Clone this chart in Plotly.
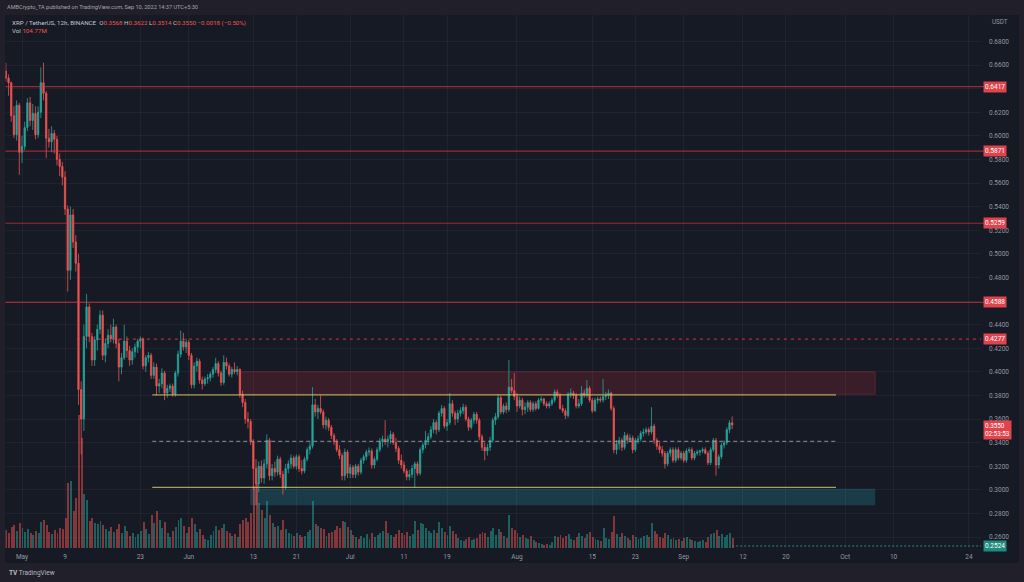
import pandas as pd
import plotly.graph_objects as go

# ---------------- data (XRP/USDT, 12h candles) ----------------
first_open = 0.655
closes = [
    0.649, 0.645, 0.617, 0.601, 0.626, 0.586, 0.591, 0.607, 0.628, 0.613,
    0.619, 0.601, 0.620, 0.645, 0.636, 0.598, 0.595, 0.602, 0.597, 0.580,
    0.574, 0.565, 0.538, 0.486, 0.533, 0.510, 0.492, 0.385, 0.360, 0.430,
    0.455, 0.430, 0.410, 0.427, 0.436, 0.448, 0.414, 0.424, 0.431, 0.428,
    0.438, 0.424, 0.404, 0.412, 0.426, 0.418, 0.410, 0.417, 0.421, 0.426,
    0.428, 0.405, 0.412, 0.414, 0.397, 0.404, 0.388, 0.390, 0.399, 0.382,
    0.386, 0.388, 0.381, 0.399, 0.415, 0.426, 0.421, 0.425, 0.414, 0.389,
    0.405, 0.409, 0.393, 0.390, 0.394, 0.395, 0.398, 0.402, 0.407, 0.399,
    0.391, 0.408, 0.405, 0.398, 0.402, 0.400, 0.402, 0.381, 0.374, 0.360,
    0.358, 0.341, 0.318, 0.305, 0.320, 0.310, 0.322, 0.342, 0.312, 0.318,
    0.315, 0.326, 0.313, 0.302, 0.318, 0.322, 0.327, 0.320, 0.328, 0.318,
    0.316, 0.326, 0.334, 0.337, 0.372, 0.366, 0.369, 0.366, 0.355, 0.359,
    0.353, 0.346, 0.341, 0.334, 0.329, 0.312, 0.332, 0.314, 0.319, 0.313,
    0.320, 0.315, 0.325, 0.328, 0.332, 0.333, 0.321, 0.326, 0.334, 0.341,
    0.343, 0.341, 0.343, 0.347, 0.340, 0.335, 0.325, 0.321, 0.316, 0.311,
    0.313, 0.318, 0.322, 0.314, 0.334, 0.338, 0.342, 0.345, 0.351, 0.357,
    0.351, 0.365, 0.369, 0.354, 0.357, 0.373, 0.365, 0.360, 0.365, 0.367,
    0.370, 0.360, 0.353, 0.359, 0.364, 0.359, 0.345, 0.336, 0.333, 0.336,
    0.342, 0.359, 0.362, 0.378, 0.366, 0.371, 0.368, 0.387, 0.384, 0.379,
    0.371, 0.376, 0.368, 0.370, 0.374, 0.368, 0.373, 0.369, 0.376, 0.377,
    0.373, 0.371, 0.373, 0.376, 0.383, 0.380, 0.369, 0.367, 0.363, 0.381,
    0.382, 0.380, 0.371, 0.373, 0.382, 0.380, 0.386, 0.376, 0.367, 0.376,
    0.377, 0.376, 0.379, 0.380, 0.382, 0.369, 0.334, 0.339, 0.342, 0.336,
    0.346, 0.342, 0.344, 0.334, 0.342, 0.343, 0.348, 0.349, 0.351, 0.349,
    0.354, 0.342, 0.337, 0.334, 0.331, 0.322, 0.331, 0.334, 0.325, 0.334,
    0.327, 0.331, 0.325, 0.333, 0.334, 0.327, 0.331, 0.332, 0.333, 0.334,
    0.331, 0.323, 0.334, 0.342, 0.321, 0.328, 0.338, 0.340, 0.351, 0.3568,
    0.3550,
]
highs = [
    0.662, 0.652, 0.646, 0.625, 0.630, 0.628, 0.600, 0.612, 0.632, 0.633,
    0.627, 0.625, 0.625, 0.658, 0.662, 0.638, 0.606, 0.608, 0.605, 0.600,
    0.585, 0.578, 0.570, 0.541, 0.540, 0.538, 0.516, 0.500, 0.392, 0.440,
    0.466, 0.458, 0.433, 0.430, 0.440, 0.452, 0.452, 0.428, 0.436, 0.440,
    0.445, 0.440, 0.428, 0.416, 0.440, 0.430, 0.422, 0.420, 0.424, 0.428,
    0.430, 0.429, 0.414, 0.417, 0.416, 0.408, 0.407, 0.394, 0.403, 0.401,
    0.389, 0.390, 0.390, 0.401, 0.418, 0.435, 0.433, 0.428, 0.427, 0.416,
    0.408, 0.412, 0.411, 0.396, 0.396, 0.398, 0.400, 0.404, 0.412, 0.409,
    0.401, 0.414, 0.412, 0.407, 0.404, 0.408, 0.405, 0.403, 0.384, 0.377,
    0.366, 0.360, 0.343, 0.326, 0.324, 0.325, 0.326, 0.347, 0.344, 0.322,
    0.324, 0.329, 0.328, 0.316, 0.322, 0.325, 0.330, 0.329, 0.330, 0.330,
    0.325, 0.328, 0.336, 0.340, 0.387, 0.377, 0.372, 0.380, 0.368, 0.362,
    0.361, 0.355, 0.348, 0.343, 0.338, 0.331, 0.335, 0.334, 0.322, 0.321,
    0.322, 0.322, 0.327, 0.330, 0.334, 0.336, 0.335, 0.328, 0.336, 0.344,
    0.346, 0.359, 0.346, 0.350, 0.349, 0.344, 0.337, 0.330, 0.324, 0.318,
    0.317, 0.321, 0.324, 0.324, 0.336, 0.340, 0.350, 0.348, 0.354, 0.360,
    0.359, 0.367, 0.372, 0.371, 0.360, 0.382, 0.376, 0.367, 0.368, 0.370,
    0.373, 0.372, 0.362, 0.361, 0.366, 0.366, 0.361, 0.347, 0.340, 0.339,
    0.345, 0.361, 0.365, 0.381, 0.380, 0.373, 0.374, 0.410, 0.394, 0.399,
    0.382, 0.379, 0.378, 0.374, 0.376, 0.376, 0.375, 0.375, 0.378, 0.379,
    0.378, 0.375, 0.375, 0.378, 0.385, 0.385, 0.382, 0.372, 0.369, 0.383,
    0.386, 0.384, 0.382, 0.377, 0.388, 0.385, 0.393, 0.388, 0.378, 0.378,
    0.379, 0.379, 0.394, 0.383, 0.385, 0.383, 0.371, 0.342, 0.345, 0.344,
    0.349, 0.348, 0.347, 0.346, 0.344, 0.346, 0.350, 0.352, 0.353, 0.353,
    0.370, 0.356, 0.344, 0.340, 0.337, 0.333, 0.333, 0.336, 0.336, 0.336,
    0.336, 0.333, 0.333, 0.335, 0.336, 0.336, 0.333, 0.334, 0.334, 0.336,
    0.336, 0.333, 0.336, 0.344, 0.344, 0.330, 0.340, 0.342, 0.353, 0.359,
    0.3622,
]
lows = [
    0.646, 0.634, 0.612, 0.598, 0.596, 0.567, 0.577, 0.588, 0.604, 0.608,
    0.605, 0.597, 0.598, 0.615, 0.630, 0.581, 0.590, 0.586, 0.585, 0.575,
    0.566, 0.558, 0.533, 0.468, 0.478, 0.505, 0.485, 0.372, 0.330, 0.350,
    0.420, 0.425, 0.405, 0.405, 0.418, 0.432, 0.410, 0.408, 0.420, 0.425,
    0.424, 0.420, 0.392, 0.398, 0.410, 0.412, 0.405, 0.406, 0.412, 0.416,
    0.420, 0.402, 0.400, 0.408, 0.394, 0.394, 0.380, 0.382, 0.386, 0.376,
    0.378, 0.383, 0.379, 0.379, 0.396, 0.412, 0.418, 0.416, 0.410, 0.386,
    0.386, 0.400, 0.390, 0.385, 0.388, 0.390, 0.392, 0.395, 0.399, 0.396,
    0.388, 0.389, 0.402, 0.396, 0.395, 0.398, 0.397, 0.378, 0.370, 0.356,
    0.352, 0.338, 0.300, 0.287, 0.298, 0.306, 0.305, 0.318, 0.308, 0.308,
    0.311, 0.312, 0.310, 0.296, 0.300, 0.314, 0.318, 0.318, 0.317, 0.315,
    0.313, 0.314, 0.324, 0.330, 0.335, 0.362, 0.360, 0.364, 0.352, 0.351,
    0.350, 0.343, 0.338, 0.332, 0.326, 0.308, 0.308, 0.310, 0.310, 0.310,
    0.310, 0.312, 0.313, 0.322, 0.325, 0.329, 0.318, 0.318, 0.324, 0.332,
    0.336, 0.338, 0.336, 0.339, 0.338, 0.332, 0.322, 0.318, 0.314, 0.308,
    0.308, 0.310, 0.302, 0.312, 0.312, 0.331, 0.335, 0.338, 0.343, 0.348,
    0.347, 0.349, 0.362, 0.352, 0.350, 0.355, 0.362, 0.355, 0.357, 0.362,
    0.364, 0.358, 0.350, 0.351, 0.356, 0.356, 0.342, 0.333, 0.325, 0.329,
    0.333, 0.340, 0.355, 0.360, 0.364, 0.364, 0.365, 0.366, 0.382, 0.376,
    0.366, 0.369, 0.363, 0.364, 0.366, 0.366, 0.366, 0.367, 0.368, 0.374,
    0.371, 0.369, 0.369, 0.371, 0.374, 0.378, 0.368, 0.365, 0.360, 0.361,
    0.378, 0.377, 0.369, 0.369, 0.371, 0.378, 0.378, 0.374, 0.365, 0.366,
    0.373, 0.374, 0.374, 0.376, 0.377, 0.367, 0.331, 0.330, 0.334, 0.333,
    0.334, 0.339, 0.340, 0.331, 0.332, 0.339, 0.341, 0.345, 0.347, 0.346,
    0.347, 0.339, 0.334, 0.331, 0.328, 0.318, 0.320, 0.328, 0.323, 0.323,
    0.325, 0.325, 0.323, 0.323, 0.331, 0.325, 0.325, 0.329, 0.329, 0.331,
    0.330, 0.321, 0.321, 0.332, 0.312, 0.318, 0.326, 0.335, 0.338, 0.348,
    0.3514,
]
volumes_m = [
    180, 150, 210, 230, 170, 250, 200, 160, 190, 150,
    130, 170, 150, 260, 280, 230, 160, 140, 180, 150,
    200, 190, 300, 650, 670, 370, 500, 1330, 1100, 540,
    480, 270, 300, 250, 240, 270, 230, 190, 170, 210,
    160, 190, 240, 150, 220, 170, 120, 150, 110, 140,
    170, 260, 190, 140, 330, 250, 370, 280, 200, 260,
    150, 110, 170, 210, 280, 300, 220, 150, 210, 300,
    240, 160, 190, 130, 90, 80, 130, 170, 220, 180,
    200, 240, 170, 150, 120, 140, 110, 240, 280, 300,
    260, 350, 620, 650, 450, 380, 300, 470, 330, 250,
    210, 220, 180, 280, 190, 150, 140, 120, 150, 130,
    110, 120, 160, 180, 470, 240, 220, 200, 190, 120,
    150, 160, 180, 220, 200, 270, 260, 210, 180, 130,
    110, 90, 120, 100, 140, 90, 150, 110, 130, 150,
    170, 270, 150, 130, 110, 140, 180, 150, 130, 160,
    120, 140, 270, 180, 250, 240, 200, 170, 150, 180,
    150, 260, 200, 160, 130, 220, 170, 140, 100, 80,
    70, 90, 110, 80, 90, 100, 140, 160, 150, 110,
    170, 200, 130, 190, 160, 120, 100, 330, 200, 180,
    150, 110, 130, 100, 90, 120, 80, 60, 50, 40,
    30, 40, 30, 60, 120, 110, 130, 100, 120, 140,
    90, 80, 110, 150, 120, 100, 140, 160, 110, 90,
    80, 70, 200, 100, 90, 160, 320, 140, 110, 150,
    120, 100, 80, 130, 110, 90, 100, 120, 130, 110,
    250, 170, 140, 110, 100, 150, 130, 90, 100, 80,
    90, 70, 100, 110, 90, 80, 70, 60, 70, 80,
    60, 110, 140, 150, 180, 120, 140, 110, 130, 150,
    104.77,
]
first_candle = "2022-04-28 00:00"

# analyst drawings (price levels and date spans)
red_levels = [0.6417, 0.5871, 0.5259, 0.4588]
red_dashed_level = 0.4277
red_dashed_from = "2022-05-11 05:00"
supply_low, supply_high = 0.381, 0.400
supply_from, supply_to = "2022-06-10 12:00", "2022-10-06 14:00"
demand_low, demand_high = 0.287, 0.301
demand_from, demand_to = "2022-06-12 10:00", "2022-10-06 14:00"
range_top, range_mid, range_bottom = 0.3805, 0.341, 0.302
range_from, range_to = "2022-05-25 05:00", "2022-09-29 07:00"
bottom_level = 0.2524

price_ticks = [0.26, 0.28, 0.30, 0.32, 0.34, 0.36, 0.38, 0.40, 0.42, 0.44,
               0.46, 0.48, 0.50, 0.52, 0.54, 0.56, 0.58, 0.60, 0.62, 0.64,
               0.66, 0.68]
hidden_price_ticks = [0.46, 0.64]   # covered by the level labels in the reference
date_ticks = ["2022-05-01", "2022-05-09", "2022-05-23", "2022-06-01", "2022-06-13",
              "2022-06-21", "2022-07-01", "2022-07-11", "2022-07-19", "2022-08-01",
              "2022-08-15", "2022-08-23", "2022-09-01", "2022-09-12", "2022-09-20",
              "2022-10-01", "2022-10-10", "2022-10-24"]
date_tick_text = ["May", "9", "23", "Jun", "13", "21", "Jul", "11", "19", "Aug",
                  "15", "23", "Sep", "12", "20", "Oct", "10", "24"]

# ---------------- build ----------------
times = pd.date_range(first_candle, periods=len(closes), freq="12h")
opens = [first_open] + closes[:-1]

UP = "#26a69a"
DN = "#ef5350"
UP_V = "rgba(38,166,154,0.5)"
DN_V = "rgba(239,83,80,0.5)"
BG = "#161a25"
FRAME = "#211f2a"
TXT = "#9598a1"
FONT = "Roboto, Liberation Sans, sans-serif"

vol_colors = [UP_V if c >= o else DN_V for o, c in zip(opens, closes)]
price_tick_text = ["" if any(abs(t - h) < 1e-9 for h in hidden_price_ticks) else f"{t:.4f}"
                   for t in price_ticks]

fig = go.Figure()
fig.add_trace(go.Bar(
    x=times, y=volumes_m, marker=dict(color=vol_colors, line=dict(width=0)),
    yaxis="y2", hoverinfo="skip", showlegend=False,
    width=12 * 3600 * 1000 * 0.72,
))
fig.add_trace(go.Candlestick(
    x=times, open=opens, high=highs, low=lows, close=closes,
    increasing=dict(line=dict(color=UP, width=0.8), fillcolor=UP),
    decreasing=dict(line=dict(color=DN, width=0.8), fillcolor=DN),
    whiskerwidth=0, showlegend=False, hoverinfo="skip",
))

W, H = 1024, 582
px_x = lambda px: px / W
px_y = lambda py: (H - py) / H

shapes = []
# chart frame background
shapes.append(dict(type="rect", xref="paper", yref="paper",
                   x0=px_x(5), x1=px_x(1019), y0=px_y(563), y1=px_y(15),
                   fillcolor=BG, line=dict(width=0), layer="below"))
for lv in red_levels:
    shapes.append(dict(type="line", xref="x domain", yref="y", x0=0, x1=1.003,
                       y0=lv, y1=lv, line=dict(color="rgba(242,54,69,0.6)", width=1.2)))
shapes.append(dict(type="line", xref="x", yref="y", x0=red_dashed_from, x1=times[-1] + pd.Timedelta(days=60),
                   y0=red_dashed_level, y1=red_dashed_level,
                   line=dict(color="rgba(242,54,69,0.7)", width=1.2, dash="3px,4px")))
shapes.append(dict(type="rect", xref="x", yref="y", x0=supply_from, x1=supply_to,
                   y0=supply_low, y1=supply_high, fillcolor="rgba(242,54,69,0.16)",
                   line=dict(color="rgba(242,54,69,0.25)", width=1), layer="below"))
shapes.append(dict(type="rect", xref="x", yref="y", x0=demand_from, x1=demand_to,
                   y0=demand_low, y1=demand_high, fillcolor="rgba(38,150,170,0.28)",
                   line=dict(width=0), layer="below"))
for lv in (range_top, range_bottom):
    shapes.append(dict(type="line", xref="x", yref="y", x0=range_from, x1=range_to,
                       y0=lv, y1=lv, line=dict(color="rgba(215,205,110,0.75)", width=1.2)))
shapes.append(dict(type="line", xref="x", yref="y", x0=range_from, x1=range_to,
                   y0=range_mid, y1=range_mid,
                   line=dict(color="rgba(150,152,160,0.75)", width=1.2, dash="4px,3px")))
shapes.append(dict(type="line", xref="x", yref="y", x0=times[-1], x1=times[-1] + pd.Timedelta(days=60),
                   y0=bottom_level, y1=bottom_level,
                   line=dict(color="rgba(38,166,154,0.8)", width=1, dash="2px,2px")))

ann = []
def box(y, text, color):
    ann.append(dict(xref="paper", yref="y", x=px_x(983), y=y, xanchor="left", yanchor="middle",
                    text=text, showarrow=False, bgcolor=color, borderpad=1,
                    font=dict(family=FONT, size=6.5, color="white")))
for lv in red_levels + [red_dashed_level]:
    box(lv, f"{lv:.4f}", "#e0434c")
ann.append(dict(xref="paper", yref="y", x=px_x(983), y=closes[-1], xanchor="left", yanchor="top",
                yshift=5, text=f"{closes[-1]:.4f}<br>02:53:53", showarrow=False, bgcolor="#e0434c",
                borderpad=1, align="left", font=dict(family=FONT, size=6.3, color="white")))
box(bottom_level, f"{bottom_level:.4f}", "#1f8a7e")

ann.append(dict(xref="paper", yref="paper", x=px_x(990), y=px_y(22), xanchor="left", yanchor="middle",
                text="USDT", showarrow=False, font=dict(family=FONT, size=6.3, color=TXT)))
ann.append(dict(xref="paper", yref="paper", x=px_x(5), y=px_y(7), xanchor="left", yanchor="middle",
                text="AMBCrypto_TA published on TradingView.com, Sep 10, 2022 14:37 UTC+5:30",
                showarrow=False, font=dict(family=FONT, size=5.6, color="#a3a5ad")))
r = lambda s: f"<span style='color:{DN}'>{s}</span>"
ann.append(dict(xref="paper", yref="paper", x=px_x(10), y=px_y(23), xanchor="left", yanchor="middle",
                text=("XRP / TetherUS, 12h, BINANCE  O" + r(f"{opens[-1]:.4f}") + " H" + r(f"{highs[-1]:.4f}")
                      + " L" + r(f"{lows[-1]:.4f}") + " C" + r(f"{closes[-1]:.4f}") + " "
                      + r(f"−{opens[-1]-closes[-1]:.4f} (−{(opens[-1]-closes[-1])/opens[-1]*100:.2f}%)")),
                showarrow=False, font=dict(family=FONT, size=6.2, color="#c3c5cc")))
ann.append(dict(xref="paper", yref="paper", x=px_x(10), y=px_y(31), xanchor="left", yanchor="middle",
                text="Vol " + r(f"{volumes_m[-1]:.2f}M"), showarrow=False,
                font=dict(family=FONT, size=6.2, color="#c3c5cc")))
ann.append(dict(xref="paper", yref="paper", x=px_x(7), y=px_y(573), xanchor="left", yanchor="middle",
                text="<b>TV</b> TradingView", showarrow=False,
                font=dict(family=FONT, size=6.5, color="#b8bac2")))

fig.update_layout(
    width=W, height=H, margin=dict(l=0, r=0, t=0, b=0),
    paper_bgcolor=FRAME, plot_bgcolor=BG,
    font=dict(family=FONT, color=TXT),
    shapes=shapes, annotations=ann, showlegend=False, dragmode=False,
    xaxis=dict(type="date", domain=[px_x(5.5), px_x(981)],
               range=["2022-04-27 22:24", "2022-10-26 06:00"],
               tickvals=date_ticks, ticktext=date_tick_text,
               tickfont=dict(family=FONT, size=6.5, color=TXT),
               showgrid=True, gridcolor="rgba(255,255,255,0.045)", gridwidth=1,
               zeroline=False, showline=False, ticks="", ticklabelstandoff=3,
               rangeslider=dict(visible=False), fixedrange=True),
    yaxis=dict(domain=[px_y(548), px_y(15)], range=[0.2507, 0.7024], side="right",
               tickvals=price_ticks, ticktext=price_tick_text,
               tickfont=dict(family=FONT, size=6.5, color=TXT),
               showgrid=True, gridcolor="rgba(255,255,255,0.045)", gridwidth=1,
               zeroline=False, showline=False, ticks="", ticklabelstandoff=7, fixedrange=True),
    yaxis2=dict(overlaying="y", range=[0, 5330], visible=False, fixedrange=True),
    bargap=0,
)

fig.write_html("out.html", config={"displayModeBar": False},
               post_script="document.body.style.margin='0';document.body.style.padding='0';"
                           "document.body.style.overflow='hidden';")
